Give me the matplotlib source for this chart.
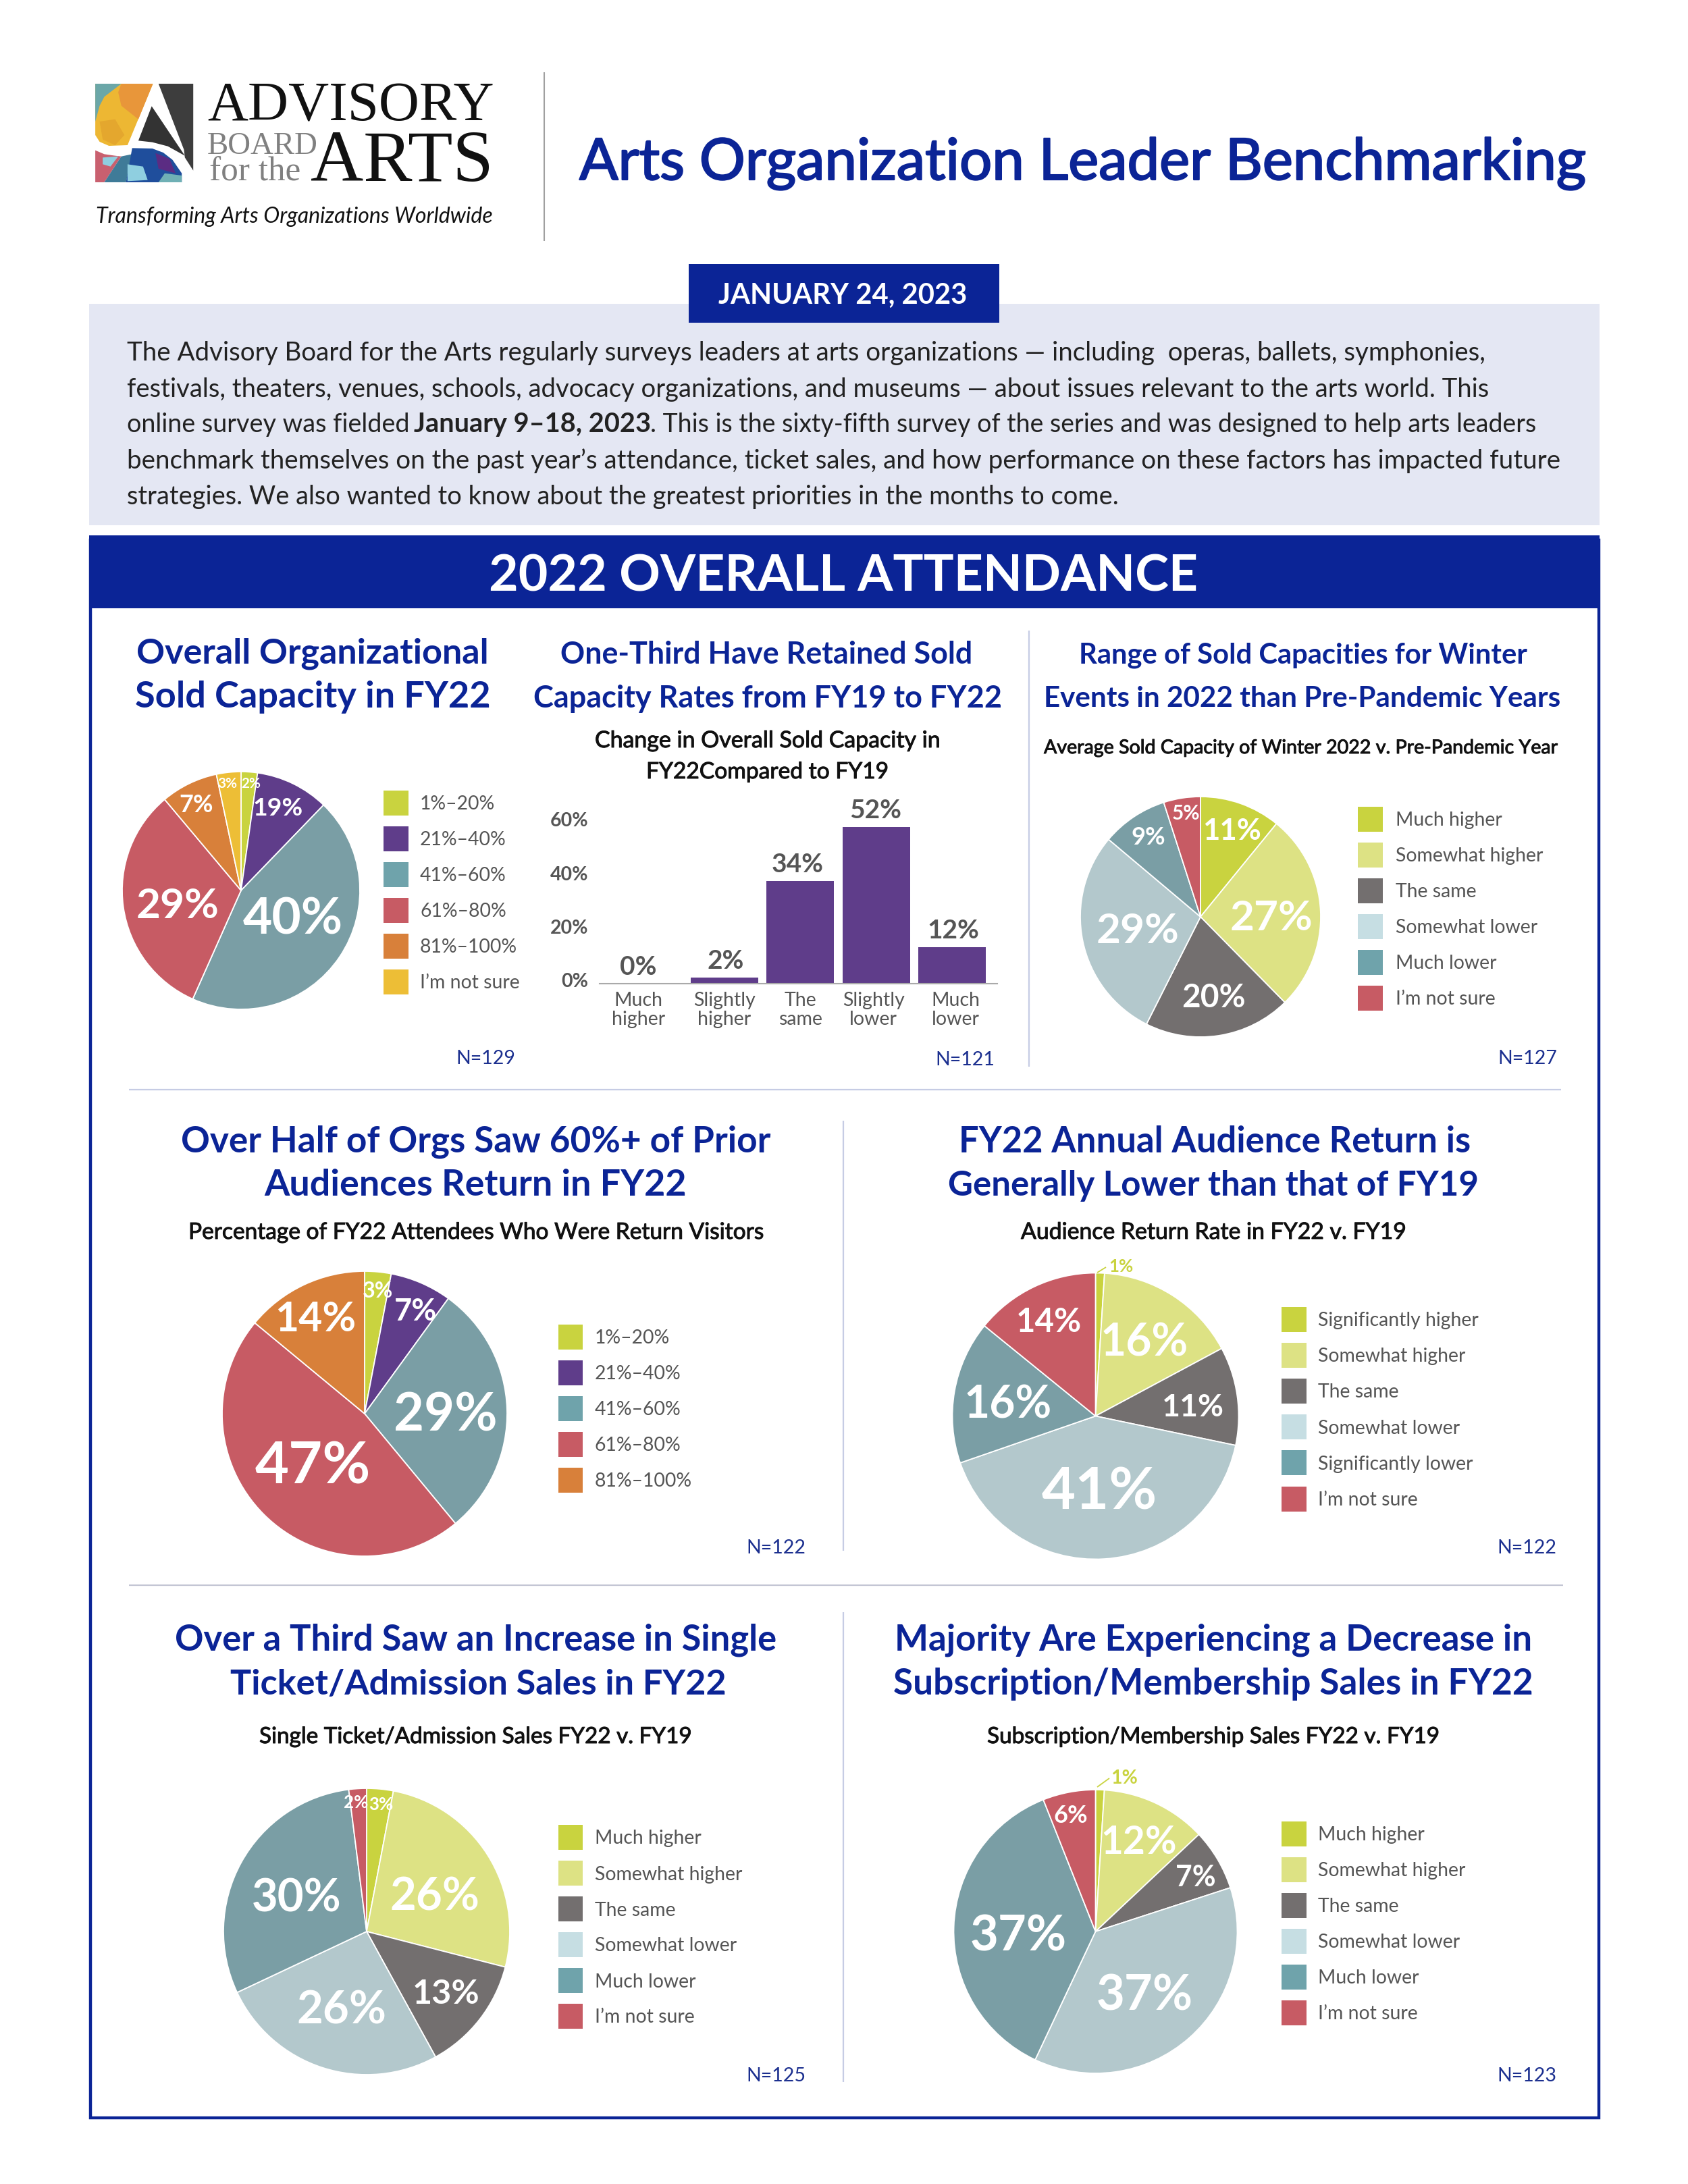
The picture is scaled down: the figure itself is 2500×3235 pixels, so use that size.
import matplotlib
matplotlib.use("Agg")
import matplotlib.pyplot as plt
import matplotlib.patheffects as pe
from matplotlib.patches import Rectangle, Polygon
from matplotlib.transforms import ScaledTranslation

W, H = 2500, 3235
NAVY = "#0B2496"
TXT = "#222222"
GRAY = "#555555"
SEP = "#C6CCE4"

# ---------- data ----------
cap_range = ["1%–20%", "21%–40%", "41%–60%", "61%–80%", "81%–100%"]
higher_lower = ["Much higher", "Somewhat higher", "The same", "Somewhat lower", "Much lower", "I’m not sure"]
signif = ["Significantly higher", "Somewhat higher", "The same", "Somewhat lower", "Significantly lower", "I’m not sure"]

sold_shares = [2, 9, 40, 29, 7, 3]          # drawn wedge sizes
sold_labels = ["2%", "19%", "40%", "29%", "7%", "3%"]   # printed labels
sold_legend = cap_range + ["I’m not sure"]

bar_categories = ["Much\nhigher", "Slightly\nhigher", "The\nsame", "Slightly\nlower", "Much\nlower"]
bar_values = [0, 2, 34, 52, 12]
bar_ticks = [0, 20, 40, 60]

winter_shares = [11, 27, 20, 29, 9, 5]
return_shares = [3, 7, 29, 47, 14]
audience_shares = [1, 16, 11, 41, 16, 14]
single_shares = [3, 26, 13, 26, 30, 2]
subs_shares = [1, 12, 7, 37, 37, 6]

body_lines = [
    "The Advisory Board for the Arts regularly surveys leaders at arts organizations — including  operas, ballets, symphonies,",
    "festivals, theaters, venues, schools, advocacy organizations, and museums — about issues relevant to the arts world. This",
    "benchmark themselves on the past year’s attendance, ticket sales, and how performance on these factors has impacted future",
    "strategies. We also wanted to know about the greatest priorities in the months to come.",
]

# ---------- colours ----------
C_LIME, C_PURPLE, C_TEAL, C_RED, C_ORANGE, C_YELLOW = "#C9D33F", "#5F3D8A", "#7A9EA5", "#C75B64", "#D8803A", "#EDBE36"
C_PLIME, C_DGRAY, C_PALE = "#DDE284", "#736F6F", "#B3C8CC"
RANGE_COL = [C_LIME, C_PURPLE, C_TEAL, C_RED, C_ORANGE, C_YELLOW]
HL_COL = [C_LIME, C_PLIME, C_DGRAY, C_PALE, C_TEAL, C_RED]
LEG_SWAP = {C_TEAL: "#6FA3AB", C_PALE: "#C6DEE3"}

fig = plt.figure(figsize=(W / 100, H / 100), dpi=100, facecolor="white")
plt.rcParams["font.family"] = ["Lato", "DejaVu Sans"]


def page_axes(z):
    a = fig.add_axes([0, 0, 1, 1], zorder=z)
    a.set_xlim(0, W)
    a.set_ylim(H, 0)
    a.axis("off")
    a.patch.set_visible(False)
    return a


bg = page_axes(0)
fg = page_axes(10)
rend = fig.canvas.get_renderer()


def T(x, y, s, size=20, color=TXT, weight="normal", ha="left", stroke=0, **kw):
    t = fg.text(x, y, s, fontsize=size, color=color, fontweight=weight, ha=ha, va="baseline", **kw)
    if stroke:
        t.set_path_effects([pe.withStroke(linewidth=stroke, foreground=color)])
    return t


def fit(x0, x1, y, s, size=30, color=TXT, weight="normal", stroke=0, **kw):
    t = T(x0, y, s, size=size, color=color, weight=weight, stroke=stroke, **kw)
    t.set_fontsize(size * (x1 - x0) / t.get_window_extent(rend).width)
    return t


def rect(x0, y0, x1, y1, **kw):
    bg.add_patch(Rectangle((x0, y0), x1 - x0, y1 - y0, linewidth=kw.pop("lw", 0), **kw))


def line(x0, y0, x1, y1, color=SEP, lw=1.6, ax=bg):
    ax.plot([x0, x1], [y0, y1], color=color, lw=lw, solid_capstyle="butt")


def draw_pie(cx, cy, r, shares, colors):
    a = fig.add_axes([(cx - r) / W, 1 - (cy + r) / H, 2 * r / W, 2 * r / H], zorder=5)
    a.pie(shares, colors=colors, startangle=90, counterclock=False, radius=1,
          wedgeprops=dict(edgecolor="white", linewidth=1.3))
    a.set_xlim(-1, 1)
    a.set_ylim(-1, 1)
    return a


def pie_label(cx, cy, s, h, color="white", weight="bold"):
    T(cx, cy + h / 2, s, size=h * 0.93, color=color, weight=weight, ha="center")


def legend(x0, x1, tx, yc0, items, colors, step=53.0, box_h=37):
    for i, (s, c) in enumerate(zip(items, colors)):
        y = yc0 + i * step
        rect(x0, y - box_h / 2, x1, y + box_h / 2, facecolor=LEG_SWAP.get(c, c))
        T(tx, y + 10, s, size=20.4, color=GRAY)


def n_label(xr, y, s):
    T(xr, y, s, size=20.5, color="#1B2F8F", ha="right")


def title2(l1, l2, y1, y2, weight="bold"):
    fit(l1[0], l1[1], y1, l1[2], size=40, color=NAVY, weight=weight)
    fit(l2[0], l2[1], y2, l2[2], size=40, color=NAVY, weight=weight)


def subtitle(x0, x1, y, s):
    fit(x0, x1, y, s, size=26, color="#111111", stroke=0.7)


# ---------- logo ----------
def lg(pts):
    return [(120 + px / 2.178, 100 + py / 3.0) for px, py in pts]


for pts, col in [
    ([(46, 72), (232, 72), (150, 345), (90, 348), (60, 330), (46, 300)], "#EDB733"),
    ([(46, 72), (130, 72), (75, 130), (60, 170), (46, 240)], "#6BA7A8"),
    ([(130, 72), (232, 72), (185, 230), (130, 170), (120, 110)], "#E8963A"),
    ([(60, 240), (110, 230), (140, 300), (110, 345), (70, 320)], "#E4A72E"),
    ([(250, 72), (362, 72), (362, 458), (335, 400), (332, 365)], "#3D3D3D"),
    ([(228, 172), (335, 392), (280, 350), (230, 332), (185, 325)], "#333333"),
    ([(46, 368), (75, 385), (110, 392), (130, 395), (75, 510), (46, 510)], "#C9606F"),
    ([(70, 400), (120, 395), (95, 440), (70, 430)], "#8FCFE0"),
    ([(130, 395), (165, 385), (145, 510), (75, 510)], "#3F7B98"),
    ([(165, 358), (230, 360), (265, 378), (295, 410), (325, 470), (325, 510), (145, 510)], "#1F4E9C"),
    ([(150, 430), (200, 440), (215, 500), (150, 505)], "#8FCFE0"),
    ([(240, 380), (285, 405), (305, 470), (250, 450)], "#5B2C83"),
    ([(270, 470), (325, 480), (325, 510), (250, 510)], "#6FB0B5"),
]:
    bg.add_patch(Polygon(lg(pts), closed=True, facecolor=col, edgecolor="none"))

SERIF = ["Liberation Serif", "DejaVu Serif"]
fit(307, 732, 179, "ADVISORY", size=50, color="#111111", family=SERIF)
fit(307, 471, 228, "BOARD", size=30, color="#808080", family=SERIF)
fit(310, 445, 268, "for the", size=30, color="#808080", family=SERIF)
fit(460, 731, 268, "ARTS", size=50, color="#111111", family=SERIF)
fit(142, 730, 330, "Transforming Arts Organizations Worldwide", size=24, color="#111111", style="italic")
line(806, 107, 806, 357, color="#A0A0A0", lw=1.5)

# ---------- header ----------
fit(858, 2350, 266, "Arts Organization Leader Benchmarking", size=66, color=NAVY, stroke=1.6)
rect(132, 450, 2369, 778, facecolor="#E4E7F3")
rect(1020, 391, 1480, 478, facecolor=NAVY, zorder=2)
fit(1064, 1432, 450, "JANUARY 24, 2023", size=30, color="white", weight="bold")

fit(188, 2195, 534, body_lines[0], size=30)
fit(188, 2205, 588, body_lines[1], size=30)
fit(188, 606, 640, "online survey was fielded", size=30)
fit(613, 963, 640, "January 9–18, 2023", size=30, weight="bold")
fit(963, 2275, 640, ". This is the sixty-fifth survey of the series and was designed to help arts leaders", size=30)
fit(188, 2308, 694, body_lines[2], size=30)
fit(188, 1652, 747, body_lines[3], size=30)

# ---------- attendance panel frame ----------
rect(132, 793, 2369, 901, facecolor=NAVY)
fit(724, 1775, 875, "2022 OVERALL ATTENDANCE", size=56, color="white", weight="bold")
bg.add_patch(Rectangle((134, 800), 2234, 2337, facecolor="none", edgecolor=NAVY, linewidth=3.2))
line(191, 1614, 2312, 1614)
line(191, 2348, 2315, 2348, color="#C4C6D4")
line(1524, 934, 1524, 1580)
line(1249, 1660, 1249, 2297)
line(1249, 2388, 1249, 3084)

# ---------- panel 1: pie ----------
title2((202, 724, "Overall Organizational"), (200, 727, "Sold Capacity in FY22"), 983, 1048)
draw_pie(357, 1319, 176, sold_shares, RANGE_COL)
for s, xy, h in zip(sold_labels,
                    [(372, 1159), (412, 1194), (434, 1354), (263, 1336), (291, 1189), (337, 1159)],
                    [16, 29, 58, 48, 28, 16]):
    pie_label(xy[0], xy[1], s, h)
legend(568, 605, 622, 1189, sold_legend, RANGE_COL)
n_label(763, 1576, "N=129")

# ---------- panel 2: bars ----------
title2((830, 1441, "One-Third Have Retained Sold"), (790, 1483, "Capacity Rates from FY19 to FY22"), 983, 1048)
subtitle(881, 1392, 1107, "Change in Overall Sold Capacity in")
subtitle(957, 1316, 1153, "FY22Compared to FY19")

bx0, bx1, by0, by1 = 888, 1477, 1456.5, 1180
ax = fig.add_axes([bx0 / W, 1 - by0 / H, (bx1 - bx0) / W, (by0 - by1) / H], zorder=5)
ax.patch.set_visible(False)
pos = list(range(len(bar_values)))
ax.bar(pos, bar_values, width=0.89, color=C_PURPLE)
ax.set_xlim((bx0 - 1073) / 112.3 + 1, (bx1 - 1073) / 112.3 + 1)
ax.set_ylim(0, (by0 - by1) / 4.45)
for sp in ["top", "left", "right"]:
    ax.spines[sp].set_visible(False)
ax.spines["bottom"].set_color("#AAAAAA")
ax.spines["bottom"].set_linewidth(1.5)
ax.set_yticks([])
ax.set_xticks(pos, bar_categories, fontsize=20.5, color=GRAY, linespacing=1.08)
ax.tick_params(axis="x", length=0, pad=9)
for lab, dx in zip(ax.get_xticklabels(), [-15, 0, 0, -4, 5]):
    lab.set_transform(lab.get_transform() + ScaledTranslation(dx / 100, 0, fig.dpi_scale_trans))
for p, v, dx in zip(pos, bar_values, [-15, 2, -4, -1, 2]):
    ax.annotate(f"{v}%", (p, v), xytext=(dx, 13), textcoords="offset pixels", ha="center", va="baseline",
                fontsize=28, fontweight="bold", color=GRAY)

ax2 = fig.add_axes([bx0 / W, 1 - 1452 / H, (bx1 - bx0) / W, (1452 - 1214) / H], zorder=4)
ax2.patch.set_visible(False)
for sp in ax2.spines.values():
    sp.set_visible(False)
ax2.set_ylim(0, 60)
ax2.set_xticks([])
ax2.set_yticks(bar_ticks, [f"{t}%" for t in bar_ticks], fontsize=20.5, fontweight="bold", color=GRAY)
ax2.tick_params(axis="y", length=0, pad=12)
n_label(1473, 1578, "N=121")

# ---------- panel 3 ----------
title2((1598, 2261, "Range of Sold Capacities for Winter"), (1546, 2310, "Events in 2022 than Pre-Pandemic Years"), 983, 1047)
subtitle(1546, 2306, 1116, "Average Sold Capacity of Winter 2022 v. Pre-Pandemic Year")
draw_pie(1778, 1358, 178, winter_shares, HL_COL)
for v, xy, h in zip(winter_shares,
                    [(1825, 1227), (1883, 1354), (1797, 1474), (1685, 1373), (1701, 1237), (1757, 1203)],
                    [34, 48, 37, 48, 28, 23]):
    pie_label(xy[0], xy[1], f"{v}%", h)
legend(2011, 2048, 2067, 1213, higher_lower, HL_COL)
n_label(2306, 1576, "N=127")

# ---------- panel 4 ----------
title2((268, 1142, "Over Half of Orgs Saw 60%+ of Prior"), (391, 1016, "Audiences Return in FY22"), 1707, 1771)
subtitle(279, 1130, 1835, "Percentage of FY22 Attendees Who Were Return Visitors")
draw_pie(540, 2094, 211, return_shares, RANGE_COL[:5])
for v, xy, h in zip(return_shares,
                    [(560, 1909), (616, 1938), (660, 2089), (463, 2164), (467, 1949)],
                    [25, 35, 60, 67, 47]):
    pie_label(xy[0], xy[1], f"{v}%", h)
legend(827, 863, 881, 1980, cap_range, RANGE_COL[:5])
n_label(1193, 2301, "N=122")

# ---------- panel 5 ----------
title2((1420, 2178, "FY22 Annual Audience Return is"), (1404, 2190, "Generally Lower than that of FY19"), 1707, 1771)
subtitle(1512, 2082, 1835, "Audience Return Rate in FY22 v. FY19")
draw_pie(1622.5, 2097.5, 212, audience_shares, HL_COL)
for v, xy, h in zip(audience_shares[1:],
                    [(1695, 1983), (1767, 2080), (1628, 2202), (1493, 2075), (1553, 1954)],
                    [51, 36, 67, 51, 38]):
    pie_label(xy[0], xy[1], f"{v}%", h)
pie_label(1660, 1874, f"{audience_shares[0]}%", 20, color=C_LIME)
line(1625, 1885, 1638, 1877, color=C_LIME, lw=1.3, ax=fg)
legend(1898, 1935, 1952, 1954, signif, HL_COL, step=53.2)
n_label(2305, 2301, "N=122")

# ---------- panel 6 ----------
title2((259, 1150, "Over a Third Saw an Increase in Single"), (341, 1076, "Ticket/Admission Sales in FY22"), 2445, 2510)
subtitle(384, 1024, 2582, "Single Ticket/Admission Sales FY22 v. FY19")
draw_pie(543, 2861, 212, single_shares, HL_COL)
for v, xy, h in zip(single_shares,
                    [(564, 2671), (644, 2804), (661, 2949), (506, 2972), (439, 2805), (527, 2668)],
                    [20, 52, 39, 52, 52, 20]):
    pie_label(xy[0], xy[1], f"{v}%", h)
legend(827, 863, 881, 2721.5, higher_lower, HL_COL)
n_label(1193, 3083, "N=125")

# ---------- panel 7 ----------
title2((1325, 2268, "Majority Are Experiencing a Decrease in"), (1323, 2270, "Subscription/Membership Sales in FY22"), 2445, 2510)
subtitle(1462, 2131, 2582, "Subscription/Membership Sales FY22 v. FY19")
draw_pie(1622.5, 2861, 210, subs_shares, HL_COL)
for v, xy, h in zip(subs_shares[1:],
                    [(1687, 2724), (1771, 2777), (1695, 2949), (1508, 2861), (1586, 2686)],
                    [44, 33, 56, 56, 28]):
    pie_label(xy[0], xy[1], f"{v}%", h)
pie_label(1665, 2631, f"{subs_shares[0]}%", 22, color=C_LIME)
line(1625, 2647, 1643, 2634, color=C_LIME, lw=1.3, ax=fg)
legend(1898, 1935, 1952, 2716, higher_lower, HL_COL)
n_label(2305, 3083, "N=123")

fig.savefig("out.png", dpi=100, facecolor="white")
